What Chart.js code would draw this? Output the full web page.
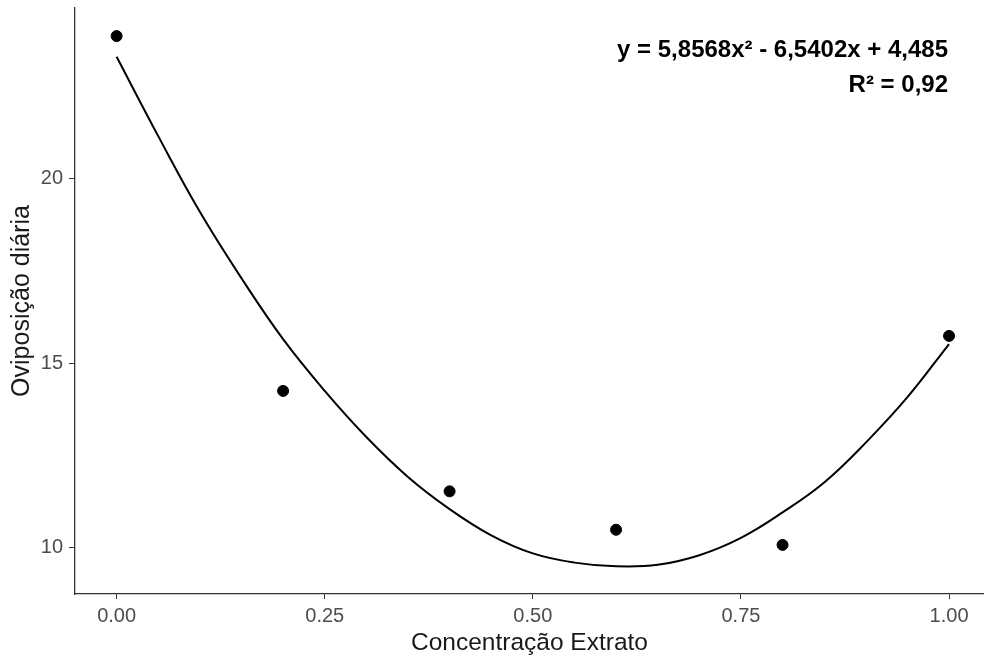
<!DOCTYPE html>
<html>
<head>
<meta charset="utf-8">
<script src="https://cdn.jsdelivr.net/npm/chart.js@4"></script>
<style>
  html, body { margin: 0; padding: 0; background: #fff; }
  #wrap { width: 984px; height: 658px; }
</style>
</head>
<body>
<div id="wrap"><canvas id="chart" width="984" height="658"></canvas></div>
<script>
// observed means
const doseX = [0, 0.2, 0.4, 0.6, 0.8, 1.0]
const oviposicao = [23.86, 14.25, 11.53, 10.49, 10.08, 15.74]

// fitted curve
const curveX = [0, 0.05, 0.1, 0.15, 0.2, 0.25, 0.3, 0.35, 0.4, 0.45, 0.5, 0.55, 0.6, 0.65, 0.7, 0.75, 0.8, 0.85, 0.9, 0.95, 1.0]
const curveY = [23.3, 21.15, 19.1, 17.3, 15.65, 14.25, 13.0, 11.92, 11.05, 10.34, 9.85, 9.6, 9.5, 9.54, 9.8, 10.27, 10.96, 11.77, 12.85, 14.08, 15.52]

const xTicks = [0, 0.25, 0.5, 0.75, 1.0]
const yTicks = [10, 15, 20]

const eqLines = ['y = 5,8568x² - 6,5402x + 4,485', 'R² = 0,92']

const FONT = 'Liberation Sans, Arial, sans-serif'

const equationLabel = {
  id: 'equationLabel',
  afterDraw(chart) {
    const ctx = chart.ctx
    ctx.save()
    ctx.font = 'bold 24px ' + FONT
    ctx.fillStyle = '#000'
    ctx.textAlign = 'right'
    ctx.textBaseline = 'alphabetic'
    ctx.fillText(eqLines[0], 948, 57)
    ctx.fillText(eqLines[1], 948, 92)
    ctx.restore()
  },
}

function noPad(s) {
  s.paddingLeft = 0
  s.paddingRight = 0
  s.paddingTop = 0
  s.paddingBottom = 0
}

new Chart(document.getElementById('chart'), {
  type: 'scatter',
  data: {
    datasets: [
      {
        label: 'ajuste',
        data: curveX.map((x, i) => ({ x, y: curveY[i] })),
        showLine: true,
        borderColor: '#000',
        borderWidth: 2,
        pointRadius: 0,
        tension: 0.4,
      },
      {
        label: 'observado',
        data: doseX.map((x, i) => ({ x, y: oviposicao[i] })),
        backgroundColor: '#000',
        borderColor: '#000',
        pointRadius: 5.5,
      },
    ],
  },
  options: {
    responsive: false,
    animation: false,
    layout: { autoPadding: false, padding: { top: 8, right: 0, left: 0, bottom: 0 } },
    plugins: { legend: { display: false }, tooltip: { enabled: false } },
    scales: {
      x: {
        type: 'linear',
        min: -0.05,
        max: 1.042,
        afterBuildTicks: (s) => { s.ticks = xTicks.map((v) => ({ value: v })) },
        afterFit: (s) => { s.height = 64; noPad(s) },
        grid: { drawOnChartArea: false, drawTicks: true, tickLength: 5, color: '#333' },
        border: { display: true, color: '#333', width: 1.3 },
        ticks: {
          color: '#4d4d4d',
          font: { family: FONT, size: 20 },
          padding: 5,
          maxRotation: 0,
          callback: (v) => Number(v).toFixed(2),
        },
        title: {
          display: true,
          text: 'Concentração Extrato',
          color: '#1a1a1a',
          font: { family: FONT, size: 24.5 },
          padding: { top: 0, bottom: 0 },
        },
      },
      y: {
        min: 8.75,
        max: 24.62,
        afterBuildTicks: (s) => { s.ticks = yTicks.map((v) => ({ value: v })) },
        afterFit: (s) => { s.width = 75; noPad(s) },
        grid: { drawOnChartArea: false, drawTicks: true, tickLength: 6, color: '#333' },
        border: { display: true, color: '#333', width: 1.3 },
        ticks: {
          color: '#4d4d4d',
          font: { family: FONT, size: 20 },
          padding: 6,
        },
        title: {
          display: true,
          text: 'Oviposição diária',
          color: '#1a1a1a',
          font: { family: FONT, size: 25 },
          padding: { top: 7, bottom: 0 },
        },
      },
    },
  },
  plugins: [equationLabel],
})
</script>
</body>
</html>
